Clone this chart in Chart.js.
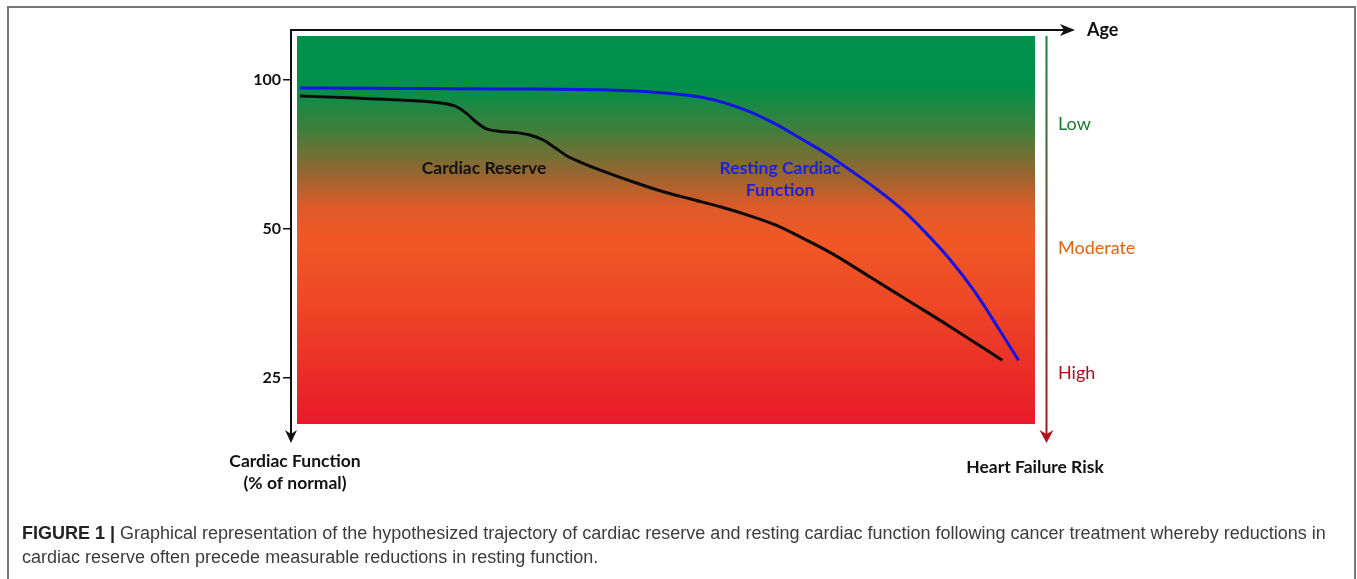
<!DOCTYPE html>
<html>
<head>
<meta charset="utf-8">
<script src="https://cdn.jsdelivr.net/npm/chart.js@4.4.1/dist/chart.umd.min.js"></script>
<style>
  html,body{margin:0;padding:0;background:#fff;}
  #wrap{position:relative;width:1357px;height:579px;overflow:hidden;background:#fff;}
  #frame{position:absolute;left:7px;top:6px;width:1349px;height:600px;border:2px solid #777;border-bottom:none;box-sizing:border-box;}
  canvas{position:absolute;left:0;top:0;}
  .cap{position:absolute;left:22px;font-family:"Liberation Sans",Arial,sans-serif;font-size:18px;color:#3c3c3c;white-space:nowrap;line-height:20px;}
  .cap b{color:#222;}
</style>
</head>
<body>
<div id="wrap">
  <div id="frame"></div>
  <canvas id="c" width="1357" height="579"></canvas>
  <div class="cap" id="cap1" style="top:523px;"><b>FIGURE 1 |</b> Graphical representation of the hypothesized trajectory of cardiac reserve and resting cardiac function following cancer treatment whereby reductions in</div>
  <div class="cap" id="cap2" style="top:547px;">cardiac reserve often precede measurable reductions in resting function.</div>
</div>
<script>
// Age (arbitrary units, 0-100) and cardiac function (% of normal)
const reserveAge   = [1.2, 7.9, 14.7, 20.0, 22.0, 23.5, 24.9, 26.3, 28.1, 30.1, 32.1, 33.9, 35.5, 37.1, 39.1, 42.2, 45.6, 49.6, 53.6, 57.7, 61.7, 65.1, 68.4, 72.8, 78.0, 83.2, 88.6, 95.6];
const reserveValue = [92.8, 92.0, 91.1, 89.9, 88.6, 85.8, 82.2, 79.6, 78.7, 78.3, 77.4, 75.6, 72.9, 70.2, 68.0, 65.2, 62.5, 59.7, 57.5, 55.4, 53.1, 50.9, 48.2, 44.5, 39.8, 35.6, 31.7, 27.1];
const restingAge   = [1.2, 28.1, 41.5, 48.3, 55.0, 58.3, 61.7, 65.1, 68.4, 71.8, 75.1, 78.5, 81.9, 85.2, 88.6, 91.9, 95.3, 97.8];
const restingValue = [96.3, 95.9, 95.5, 94.6, 92.4, 89.9, 86.2, 81.5, 76.3, 71.2, 65.8, 60.5, 55.1, 49.3, 43.3, 37.3, 31.1, 27.1];
const yTickValues  = [25, 50, 100];
const riskLabels   = ["Low", "Moderate", "High"];
const riskColors   = ["#177a2c", "#e2650f", "#a8101c"];

const toPts = (xs, ys) => xs.map((x, i) => ({x, y: ys[i]}));

const FONT = 'Lato, "Open Sans", sans-serif';

const decor = {
  id: 'decor',
  beforeDatasetsDraw(chart) {
    const {ctx, chartArea: a} = chart;
    const x0 = a.left + 6, y0 = a.top + 6, x1 = a.right, y1 = a.bottom - 16;
    const g = ctx.createLinearGradient(0, y0, 0, y1);
    g.addColorStop(0.00, '#00914a');
    g.addColorStop(0.13, '#01904a');
    g.addColorStop(0.25, '#457d3b');
    g.addColorStop(0.35, '#936631');
    g.addColorStop(0.44, '#dc5b29');
    g.addColorStop(0.52, '#f05826');
    g.addColorStop(0.66, '#ee4b25');
    g.addColorStop(0.83, '#eb3327');
    g.addColorStop(1.00, '#e8192a');
    ctx.save();
    ctx.fillStyle = g;
    ctx.fillRect(x0, y0, x1 - x0, y1 - y0);
    ctx.restore();
  },
  afterDraw(chart) {
    const {ctx, chartArea: a} = chart;
    ctx.save();
    // top Age axis
    ctx.strokeStyle = '#111'; ctx.lineWidth = 2;
    ctx.beginPath(); ctx.moveTo(a.left - 1, a.top); ctx.lineTo(1068, a.top); ctx.stroke();
    ctx.fillStyle = '#111';
    ctx.beginPath(); ctx.moveTo(1075, a.top); ctx.lineTo(1060, a.top - 6); ctx.lineTo(1064, a.top); ctx.lineTo(1060, a.top + 6); ctx.closePath(); ctx.fill();
    // left axis arrowhead
    const lx = a.left;
    ctx.beginPath(); ctx.moveTo(lx, a.bottom + 3); ctx.lineTo(lx - 6, a.bottom - 10); ctx.lineTo(lx, a.bottom - 6); ctx.lineTo(lx + 6, a.bottom - 10); ctx.closePath(); ctx.fill();
    // right risk arrow
    const rx = 1046.5;
    const rg = ctx.createLinearGradient(0, a.top + 6, 0, a.bottom);
    rg.addColorStop(0, '#0a8a3e'); rg.addColorStop(0.45, '#6b4a2a'); rg.addColorStop(1, '#b5121c');
    ctx.strokeStyle = rg; ctx.lineWidth = 2;
    ctx.beginPath(); ctx.moveTo(rx, a.top + 6); ctx.lineTo(rx, a.bottom - 4); ctx.stroke();
    ctx.fillStyle = '#b5121c';
    ctx.beginPath(); ctx.moveTo(rx, a.bottom + 3); ctx.lineTo(rx - 7, a.bottom - 10); ctx.lineTo(rx, a.bottom - 6); ctx.lineTo(rx + 7, a.bottom - 10); ctx.closePath(); ctx.fill();

    // texts
    ctx.textBaseline = 'middle';
    ctx.fillStyle = '#111';
    ctx.font = 'bold 18px ' + FONT;
    ctx.textAlign = 'left';
    ctx.fillText('Age', 1087, a.top);
    ctx.textAlign = 'center';
    ctx.font = 'bold 17.5px ' + FONT;
    ctx.fillText('Cardiac Function', 295, 461);
    ctx.fillText('(% of normal)', 295, 483);
    ctx.fillText('Heart Failure Risk', 1035, 467);
    ctx.fillText('Cardiac Reserve', 484, 168);
    ctx.fillStyle = '#1d22d8';
    ctx.fillText('Resting Cardiac', 780, 168);
    ctx.fillText('Function', 780, 190);
    ctx.textAlign = 'left';
    ctx.font = '18px ' + FONT;
    const ys = [124, 248, 373];
    riskLabels.forEach((t, i) => { ctx.fillStyle = riskColors[i]; ctx.fillText(t, 1058, ys[i]); });
    ctx.restore();
  }
};

new Chart(document.getElementById('c'), {
  type: 'scatter',
  data: {
    datasets: [
      { label: 'Cardiac Reserve', data: toPts(reserveAge, reserveValue), showLine: true, borderColor: '#0a0a0a', borderWidth: 3, pointRadius: 0, cubicInterpolationMode: 'monotone', fill: false },
      { label: 'Resting Cardiac Function', data: toPts(restingAge, restingValue), showLine: true, borderColor: '#1414e6', borderWidth: 3, pointRadius: 0, cubicInterpolationMode: 'monotone', fill: false }
    ]
  },
  options: {
    responsive: false,
    animation: false,
    devicePixelRatio: 1,
    layout: { padding: { left: 0, right: 322, top: 30, bottom: 139 } },
    plugins: { legend: { display: false }, tooltip: { enabled: false } },
    scales: {
      x: { type: 'linear', min: 0, max: 100, display: false },
      y: {
        type: 'logarithmic', min: 18.7, max: 126.2,
        afterBuildTicks: s => { s.ticks = yTickValues.map(v => ({value: v})); },
        afterFit: s => { s.width = 291; },
        ticks: { color: '#111', font: { family: FONT, size: 16, weight: 'bold' }, padding: 2, callback: v => String(v) },
        grid: { display: true, drawOnChartArea: false, drawTicks: true, tickLength: 8, color: '#111', lineWidth: 1.5 },
        border: { display: true, color: '#111', width: 2 }
      }
    }
  },
  plugins: [decor]
});
</script>
</body>
</html>
